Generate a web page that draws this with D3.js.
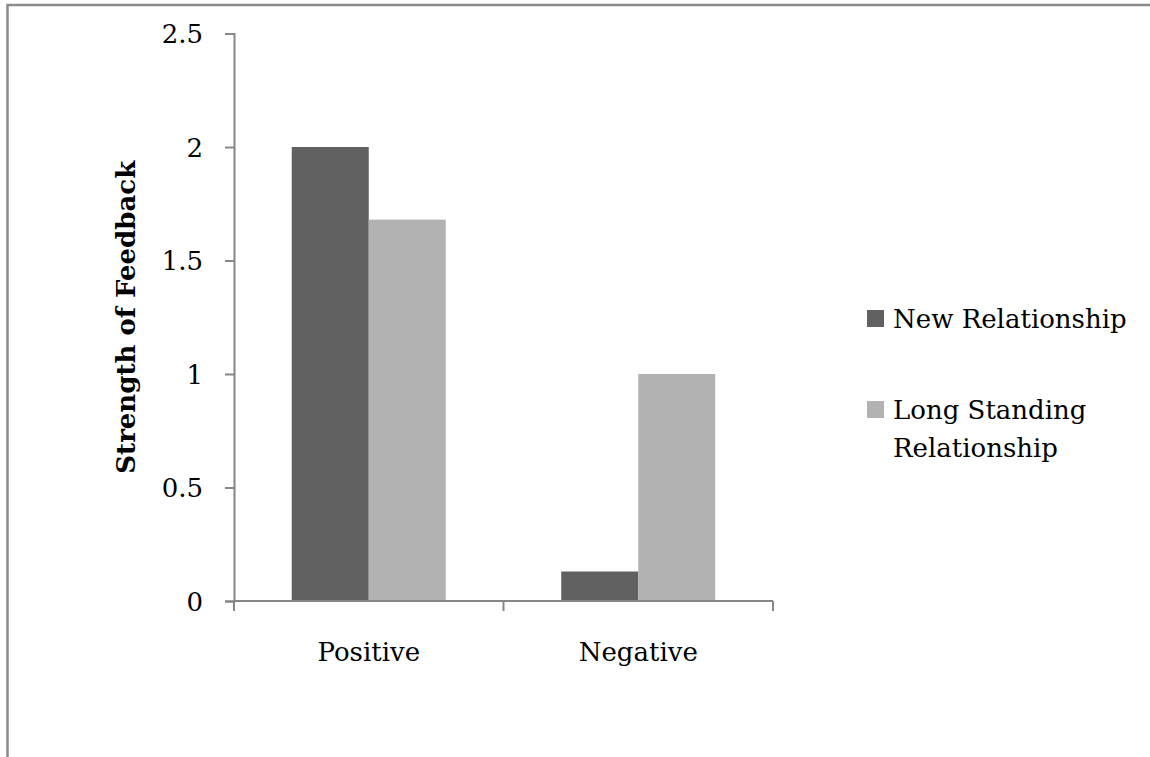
<!DOCTYPE html>
<html>
<head>
<meta charset="utf-8">
<script src="https://cdn.jsdelivr.net/npm/d3@7"></script>
<style>
  html, body { margin: 0; padding: 0; background: #fff; }
  svg { display: block; }
  text { font-family: "DejaVu Serif", "Liberation Serif", serif; fill: #000; }
</style>
</head>
<body>
<svg id="chart" width="1150" height="757"></svg>
<script>
// Feedback strength by relationship type
const categories = ["Positive", "Negative"];
const seriesNames = ["New Relationship", "Long Standing Relationship"];
const newRelationship = [2.0, 0.13];
const longStanding = [1.68, 1.0];
const yTicks = [0, 0.5, 1, 1.5, 2, 2.5];
const seriesColors = ["#616161", "#b2b2b2"];

const svg = d3.select("#chart");
const W = 1150, H = 757;
const plot = { left: 234, right: 773, top: 33.5, bottom: 601 };

// outer frame edges
svg.append("path")
  .attr("d", `M7.5,${H} L7.5,5 L${W},5`)
  .attr("fill", "none")
  .attr("stroke", "#8a8a8a")
  .attr("stroke-width", 2.5);

const x0 = d3.scaleBand().domain(categories).range([plot.left, plot.right]).paddingInner(0).paddingOuter(0);
const x1 = d3.scaleBand().domain(seriesNames).range([0, x0.bandwidth()]).paddingInner(0).paddingOuter(0.75);
const y = d3.scaleLinear().domain([0, 2.5]).range([plot.bottom, plot.top]);

const rows = categories.map((c, i) => ({
  category: c,
  values: [newRelationship[i], longStanding[i]]
}));

// bars
const groups = svg.append("g").selectAll("g").data(rows).join("g")
  .attr("transform", d => `translate(${x0(d.category)},0)`);
groups.selectAll("rect")
  .data(d => d.values.map((v, k) => ({ name: seriesNames[k], value: v, k })))
  .join("rect")
  .attr("x", d => x1(d.name))
  .attr("width", x1.bandwidth())
  .attr("y", d => y(d.value))
  .attr("height", d => y(0) - y(d.value))
  .attr("fill", d => seriesColors[d.k]);

// y axis
const yAxis = svg.append("g")
  .attr("transform", `translate(${plot.left},0)`)
  .call(d3.axisLeft(y).tickValues(yTicks).tickSize(9).tickPadding(22)
    .tickFormat(d => d3.format("")(d)));
yAxis.select(".domain").attr("stroke", "#868686").attr("stroke-width", 2);
yAxis.selectAll(".tick line").attr("stroke", "#868686").attr("stroke-width", 2);
yAxis.selectAll(".tick text").style("font-size", "26px").attr("dy", "0.35em");

// x axis with boundary ticks
const xAxisG = svg.append("g").attr("transform", `translate(0,${plot.bottom})`);
xAxisG.append("line")
  .attr("x1", plot.left).attr("x2", plot.right)
  .attr("y1", 0).attr("y2", 0)
  .attr("stroke", "#868686").attr("stroke-width", 2);
const boundaries = categories.map(c => x0(c)).concat([x0(categories[categories.length - 1]) + x0.bandwidth()]);
xAxisG.selectAll("line.bt").data(boundaries).join("line")
  .attr("class", "bt")
  .attr("x1", d => d).attr("x2", d => d)
  .attr("y1", 0).attr("y2", 10)
  .attr("stroke", "#868686").attr("stroke-width", 2);
xAxisG.selectAll("text").data(categories).join("text")
  .attr("x", d => x0(d) + x0.bandwidth() / 2)
  .attr("y", 60)
  .attr("text-anchor", "middle")
  .style("font-size", "26px")
  .text(d => d);

// y axis title
svg.append("text")
  .attr("transform", `translate(135,${(plot.top + plot.bottom) / 2}) rotate(-90)`)
  .attr("text-anchor", "middle")
  .style("font-size", "26px")
  .style("font-weight", "bold")
  .text("Strength of Feedback");

// legend
const legendItems = [
  { lines: ["New Relationship"], color: seriesColors[0], y: 328 },
  { lines: ["Long Standing", "Relationship"], color: seriesColors[1], y: 419 }
];
const legend = svg.append("g");
legendItems.forEach(item => {
  legend.append("rect")
    .attr("x", 867).attr("y", item.y - 18)
    .attr("width", 17).attr("height", 17)
    .attr("fill", item.color);
  const t = legend.append("text")
    .attr("x", 893).attr("y", item.y)
    .style("font-size", "26px");
  item.lines.forEach((ln, i) => {
    t.append("tspan").attr("x", 893).attr("dy", i === 0 ? 0 : 38).text(ln);
  });
});
</script>
</body>
</html>
